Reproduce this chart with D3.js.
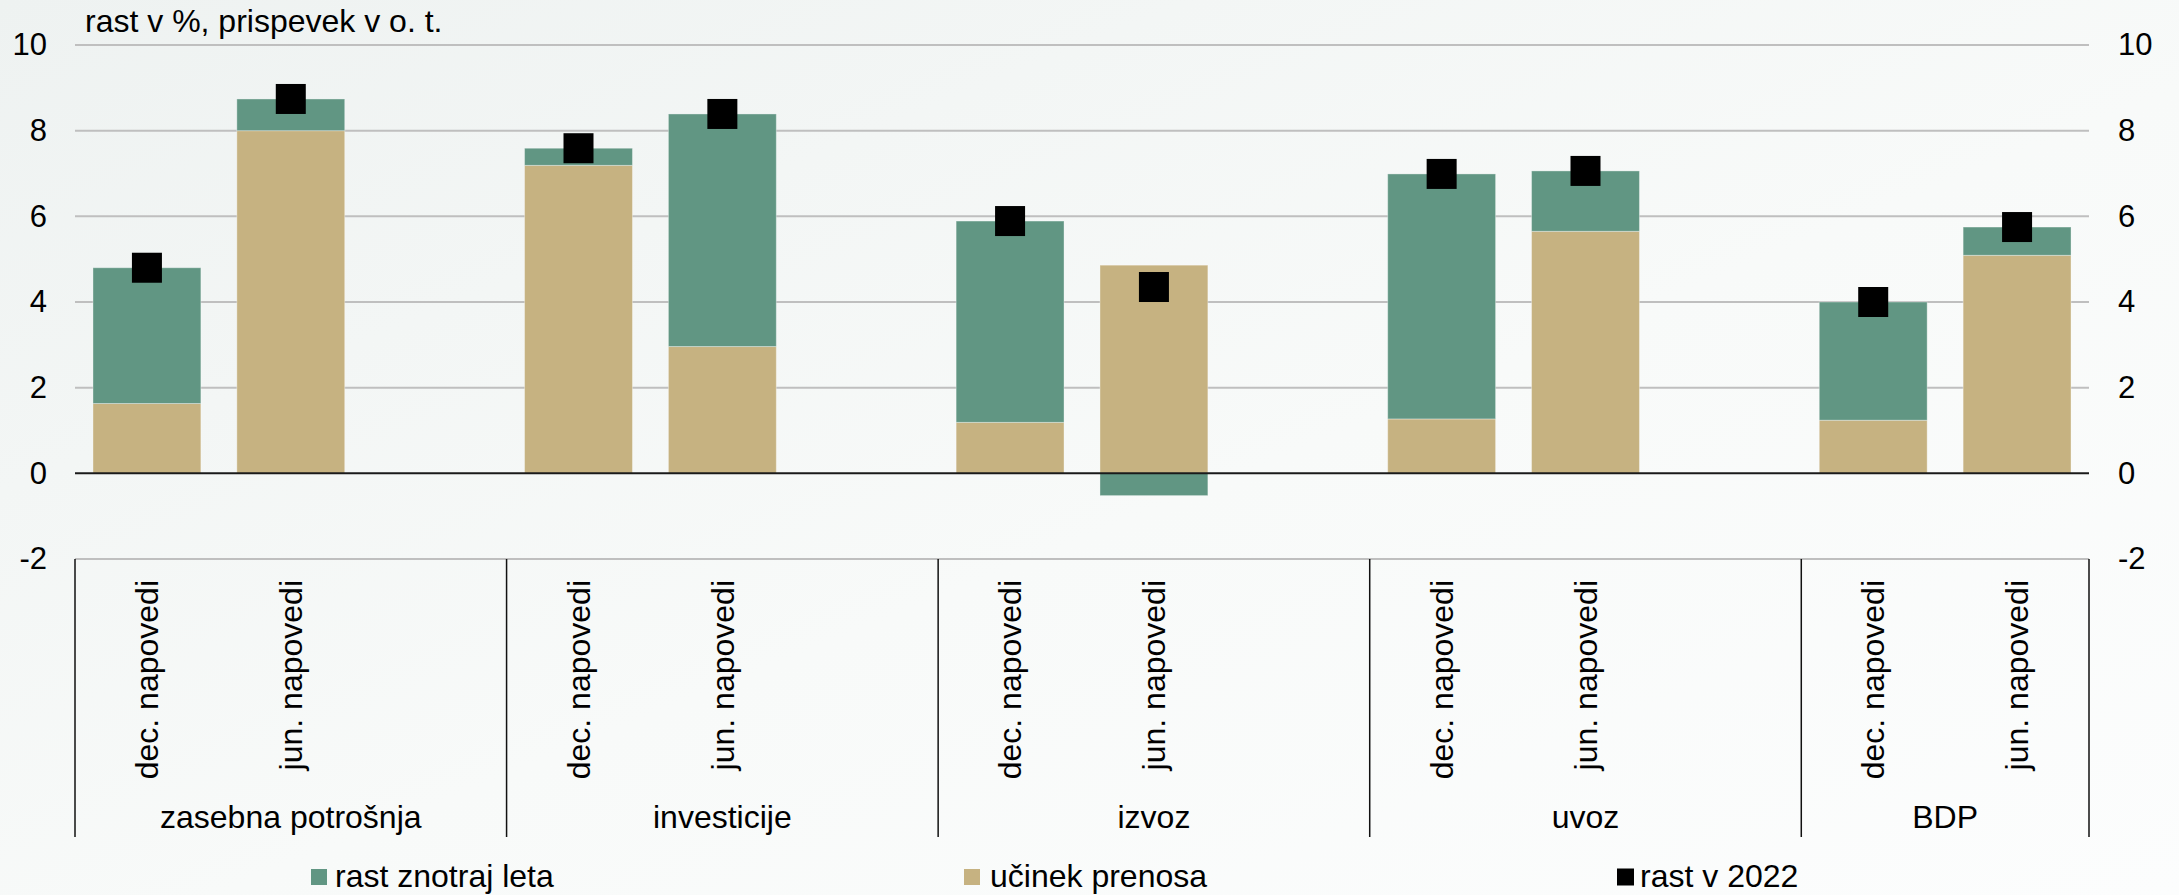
<!DOCTYPE html>
<html>
<head>
<meta charset="utf-8">
<script src="https://cdn.jsdelivr.net/npm/d3@7"></script>
<style>
  html, body { margin: 0; padding: 0; background: #f6f8f7; }
  svg { display: block; font-family: "Liberation Sans", Arial, sans-serif; }
</style>
</head>
<body>
<svg id="chart" width="2179" height="895"></svg>
<script>
// ---- data ----
const groups = ["zasebna potrošnja", "investicije", "izvoz", "uvoz", "BDP"];
const forecasts = ["dec. napovedi", "jun. napovedi"];
const carryover = [1.63, 8.0, 7.19, 2.96, 1.19, 4.86, 1.27, 5.65, 1.24, 5.09];      // učinek prenosa
const withinYear = [3.17, 0.74, 0.40, 5.43, 4.70, -0.52, 5.72, 1.41, 2.76, 0.66];   // rast znotraj leta
const growth2022 = [4.8, 8.74, 7.59, 8.39, 5.89, 4.35, 6.99, 7.06, 4.0, 5.75];      // rast v 2022
const yTicks = [-2, 0, 2, 4, 6, 8, 10];
const seriesNames = ["rast znotraj leta", "učinek prenosa", "rast v 2022"];
const chartTitle = "rast v %, prispevek v o. t.";

(function () {
const colGreen = "#619683";
const colTan = "#c6b281";

const W = 2179, H = 895;
const plotLeft = 75, plotRight = 2089, plotTop = 45, plotBottom = 559;
const svg = d3.select("#chart");

// background gradient
const defs = svg.append("defs");
const grad = defs.append("linearGradient").attr("id", "bg")
  .attr("x1", "0").attr("y1", "0").attr("x2", "1").attr("y2", "1");
grad.append("stop").attr("offset", "0").attr("stop-color", "#eef2f1");
grad.append("stop").attr("offset", "0.55").attr("stop-color", "#f8faf9");
grad.append("stop").attr("offset", "1").attr("stop-color", "#fcfdfd");
svg.append("rect").attr("width", W).attr("height", H).attr("fill", "url(#bg)");

// rows
const rows = [];
groups.forEach((g, gi) => forecasts.forEach((f, fi) => {
  const i = gi * 2 + fi;
  rows.push({ key: g + "|" + f, group: g, forecast: f, carry: carryover[i], within: withinYear[i], total: growth2022[i] });
}));

// slots (with blank spacer slot after each group except the last)
const slots = [];
groups.forEach((g, gi) => {
  forecasts.forEach(f => slots.push(g + "|" + f));
  if (gi < groups.length - 1) slots.push(g + "|gap");
});

const x = d3.scaleBand().domain(slots).range([plotLeft, plotRight]).paddingInner(0.25).paddingOuter(0.125);
const y = d3.scaleLinear().domain([-2, 10]).range([plotBottom, plotTop]);

// gridlines
svg.append("g").selectAll("line").data(yTicks.filter(t => t !== 0)).join("line")
  .attr("x1", plotLeft).attr("x2", plotRight)
  .attr("y1", d => y(d)).attr("y2", d => y(d))
  .attr("stroke", "#bfbfbf").attr("stroke-width", 2);

// axes labels
const fmt = d => String(d);
const yl = d3.axisLeft(y).tickValues(yTicks).tickFormat(fmt).tickSize(0).tickPadding(0);
const gl = svg.append("g").attr("transform", `translate(47,0)`).call(yl);
const yr = d3.axisRight(y).tickValues(yTicks).tickFormat(fmt).tickSize(0).tickPadding(0);
const gr = svg.append("g").attr("transform", `translate(2118,0)`).call(yr);
[gl, gr].forEach(g => {
  g.select(".domain").remove();
  g.selectAll("text").attr("font-size", 31).attr("fill", "#000")
    .attr("font-family", "Liberation Sans, Arial, sans-serif");
});

// stacked bars
const stack = d3.stack().keys(["carry", "within"]).offset(d3.stackOffsetDiverging);
const stacked = stack(rows);
const colors = { carry: colTan, within: colGreen };
svg.append("g").selectAll("g").data(stacked).join("g")
  .attr("fill", d => colors[d.key])
  .selectAll("rect").data(d => d).join("rect")
  .attr("x", d => x(d.data.key))
  .attr("width", x.bandwidth())
  .attr("y", d => y(Math.max(d[0], d[1])))
  .attr("height", d => Math.abs(y(d[0]) - y(d[1])))
  .attr("stroke", "rgba(255,255,255,0.35)").attr("stroke-width", 1);

// zero line
svg.append("line").attr("x1", plotLeft).attr("x2", plotRight)
  .attr("y1", y(0)).attr("y2", y(0))
  .attr("stroke", "#1a1a1a").attr("stroke-width", 2);

// markers
const ms = 30;
svg.append("g").selectAll("rect").data(rows).join("rect")
  .attr("x", d => x(d.key) + x.bandwidth() / 2 - ms / 2)
  .attr("y", d => y(d.total) - ms / 2)
  .attr("width", ms).attr("height", ms).attr("fill", "#000");

// category area
const step = x.step();
const bounds = [];
let idx = 0;
groups.forEach((g, gi) => {
  const n = gi < groups.length - 1 ? 3 : 2;
  const x0 = plotLeft + idx * step;
  const x1 = plotLeft + (idx + n) * step;
  bounds.push({ g, x0, x1 });
  idx += n;
});
const sepX = [plotLeft].concat(bounds.map(b => b.x1));
svg.append("g").selectAll("line").data(sepX).join("line")
  .attr("x1", d => d).attr("x2", d => d)
  .attr("y1", y(-2)).attr("y2", 837)
  .attr("stroke", "#111").attr("stroke-width", 1.5);

// rotated forecast labels
svg.append("g").selectAll("text").data(rows).join("text")
  .attr("transform", d => `translate(${x(d.key) + x.bandwidth() / 2},580) rotate(-90)`)
  .attr("text-anchor", "end").attr("dy", "0.35em")
  .attr("font-size", 32).attr("fill", "#000")
  .text(d => d.forecast);

// group labels
svg.append("g").selectAll("text").data(bounds).join("text")
  .attr("x", d => (d.x0 + d.x1) / 2).attr("y", 828)
  .attr("text-anchor", "middle").attr("font-size", 32).attr("fill", "#000")
  .text(d => d.g);

// title
svg.append("text").attr("x", 85).attr("y", 32).attr("font-size", 32).attr("fill", "#000").text(chartTitle);

// legend
const legend = [
  { name: seriesNames[0], color: colGreen, sx: 311, size: 16, tx: 335 },
  { name: seriesNames[1], color: colTan, sx: 964, size: 16, tx: 990 },
  { name: seriesNames[2], color: "#000", sx: 1617, size: 17, tx: 1640 }
];
const lg = svg.append("g").selectAll("g").data(legend).join("g");
lg.append("rect").attr("x", d => d.sx).attr("y", d => 877 - d.size / 2)
  .attr("width", d => d.size).attr("height", d => d.size).attr("fill", d => d.color);
lg.append("text").attr("x", d => d.tx).attr("y", 887).attr("font-size", 32).attr("fill", "#000")
  .text(d => d.name);
})();
</script>
</body>
</html>
